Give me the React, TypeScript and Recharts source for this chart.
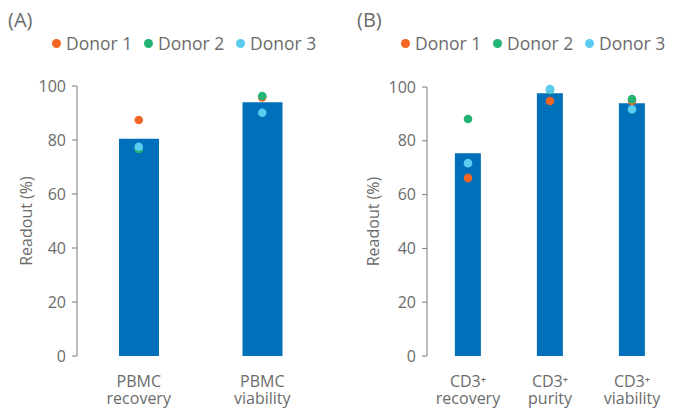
import React from 'react';
import { ComposedChart, Bar, Scatter, XAxis, YAxis, Legend } from 'recharts';

// ---- Data ----
const categoriesA = ['PBMC|recovery', 'PBMC|viability'];
const barA = [80.5, 94.0];
const donor1A = [87.4, 95.8];
const donor2A = [76.7, 96.3];
const donor3A = [77.5, 90.1];

const categoriesB = ['CD3⁺|recovery', 'CD3⁺|purity', 'CD3⁺|viability'];
const barB = [75.4, 97.7, 94.0];
const donor1B = [66.2, 94.8, 94.8];
const donor2B = [88.1, 98.9, 95.5];
const donor3B = [71.7, 99.2, 91.7];

const yTicks = [0, 20, 40, 60, 80, 100];
const donorNames = ['Donor 1', 'Donor 2', 'Donor 3'];

// ---- Styles ----
const FONT = '"Open Sans", sans-serif';
const TEXT = '#6b6b6b';
const AXIS = '#7a7a7a';
const BAR = '#0070BA';
const DONOR_COLORS = ['#F26522', '#22B473', '#5BCBEF'];

const buildRows = (cats: string[], bars: number[], d1: number[], d2: number[], d3: number[]) =>
  cats.map((c, i) => ({ cat: c, idx: i + 0.5, value: bars[i], d1: d1[i], d2: d2[i], d3: d3[i] }));

const dataA = buildRows(categoriesA, barA, donor1A, donor2A, donor3A);
const dataB = buildRows(categoriesB, barB, donor1B, donor2B, donor3B);

const MultiTick = (props: any) => {
  const { x, y, payload } = props;
  const [l1, l2] = String(payload.value).split('|');
  return (
    <g transform={`translate(${x},${y})`}>
      <text x={0} y={31} textAnchor="middle" fill={TEXT} fontSize={16} fontFamily={FONT}>
        {l1}
      </text>
      <text x={0} y={48} textAnchor="middle" fill={TEXT} fontSize={16} fontFamily={FONT}>
        {l2}
      </text>
    </g>
  );
};

const Dot = (color: string) => (props: any) => {
  const { cx, cy } = props;
  if (cx == null || cy == null) return null;
  return <circle cx={cx} cy={cy} r={4.3} fill={color} />;
};

const LegendContent = (props: any) => {
  const { payload } = props;
  const items = (payload || []).filter((p: any) => p.type !== 'none' && donorNames.includes(p.value));
  return (
    <div style={{ display: 'flex', fontFamily: FONT, fontSize: 17.5, color: TEXT, whiteSpace: 'nowrap' }}>
      {items.map((p: any) => (
        <div key={p.value} style={{ display: 'flex', alignItems: 'center', width: 92, flex: '0 0 92px' }}>
          <span
            style={{
              display: 'inline-block',
              width: 9,
              height: 9,
              borderRadius: '50%',
              background: p.color,
              marginRight: 5,
            }}
          />
          <span>{p.value}</span>
        </div>
      ))}
    </div>
  );
};

const YLabel = (labelX: number) => (props: any) => {
  const { viewBox } = props;
  const cy = viewBox.y + viewBox.height / 2;
  return (
    <text
      x={labelX}
      y={cy}
      transform={`rotate(-90, ${labelX}, ${cy})`}
      textAnchor="middle"
      dominantBaseline="central"
      fill={TEXT}
      fontSize={16}
      fontFamily={FONT}
    >
      Readout (%)
    </text>
  );
};

const Panel = ({
  data,
  letter,
  yAxisWidth,
  margin,
  labelX,
  legendLeft,
}: {
  data: any[];
  letter: string;
  yAxisWidth: number;
  margin: any;
  labelX: number;
  legendLeft: number;
}) => {
  const n = data.length;
  const numTicks = Array.from({ length: n + 1 }, (_, i) => i);
  return (
    <div style={{ position: 'relative', width: 338, height: 410 }}>
      <div
        style={{
          position: 'absolute',
          left: letter === '(A)' ? 8 : 19,
          top: 6,
          fontFamily: FONT,
          fontSize: 20,
          color: TEXT,
          lineHeight: '28px',
        }}
      >
        {letter}
      </div>
      <ComposedChart width={338} height={410} data={data} margin={margin} barCategoryGap="34%">
        <XAxis
          xAxisId="num"
          type="number"
          dataKey="idx"
          domain={[0, n]}
          ticks={numTicks}
          tick={false}
          tickSize={4}
          height={0}
          stroke={AXIS}
          allowDataOverflow
        />
        <XAxis
          xAxisId="cat"
          dataKey="cat"
          type="category"
          axisLine={false}
          tickLine={false}
          tickSize={0}
          tickMargin={0}
          height={54}
          interval={0}
          tick={<MultiTick />}
        />
        <YAxis
          domain={[0, 100]}
          ticks={yTicks}
          width={yAxisWidth}
          stroke={AXIS}
          tickSize={5}
          tickMargin={6}
          tick={{ fill: TEXT, fontSize: 16, fontFamily: FONT }}
          label={YLabel(labelX)}
        />
        <Legend
          verticalAlign="middle"
          align="center"
          layout="horizontal"
          wrapperStyle={{ top: 31, left: legendLeft, width: 290 }}
          content={<LegendContent />}
        />
        <Bar
          xAxisId="cat"
          dataKey="value"
          fill={BAR}
          legendType="none"
          isAnimationActive={false}
        />
        {['d1', 'd2', 'd3'].map((k, i) => (
          <Scatter
            key={k}
            xAxisId="cat"
            dataKey={k}
            name={donorNames[i]}
            fill={DONOR_COLORS[i]}
            shape={Dot(DONOR_COLORS[i])}
            isAnimationActive={false}
          />
        ))}
      </ComposedChart>
    </div>
  );
};

export default function App() {
  return (
    <div
      style={{
        position: 'absolute',
        left: 0,
        top: 0,
        width: 676,
        height: 410,
        display: 'flex',
        background: '#fff',
      }}
    >
      <Panel
        data={dataA}
        letter="(A)"
        yAxisWidth={77}
        margin={{ top: 86, right: 14, bottom: 0, left: 0 }}
        labelX={26}
        legendLeft={52}
      />
      <Panel
        data={dataB}
        letter="(B)"
        yAxisWidth={89}
        margin={{ top: 87, right: 3, bottom: 0, left: 0 }}
        labelX={35}
        legendLeft={63}
      />
    </div>
  );
}
